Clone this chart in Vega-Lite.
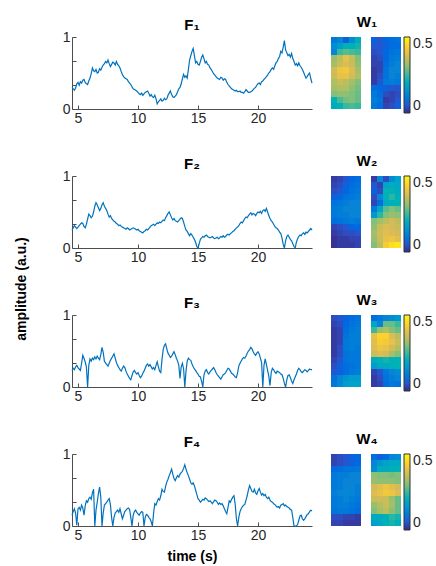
{
"$schema": "https://vega.github.io/schema/vega-lite/v6.json",
"background": "white",
"padding": {"left": 15, "top": 15, "right": 2, "bottom": 2},
"config": {
  "font": "Liberation Sans",
  "view": {"stroke": null},
  "axis": {"grid": false, "domainColor": "#4d4d4d", "tickColor": "#4d4d4d", "labelColor": "#262626", "labelFontSize": 14, "labelFont": "Liberation Sans", "titleFont": "Liberation Sans", "titleFontSize": 14, "titleFontWeight": "bold", "titleColor": "#000", "tickSize": -4, "labelPadding": 6, "titlePadding": 7},
  "title": {"font": "Liberation Sans", "fontSize": 15, "fontWeight": "bold", "color": "#000", "offset": 0},
  "legend": {"labelFont": "Liberation Sans", "labelFontSize": 14, "labelColor": "#262626"}
},
"title": {"text": "amplitude (a.u.)", "orient": "left", "anchor": "middle", "fontSize": 14, "fontWeight": "bold", "offset": 33},
"datasets": {
"f1": [{"t":4.5,"v":0.30},{"t":4.6,"v":0.28},{"t":4.7,"v":0.26},{"t":4.8,"v":0.29},{"t":4.9,"v":0.35},{"t":5.0,"v":0.37},{"t":5.1,"v":0.33},{"t":5.2,"v":0.38},{"t":5.3,"v":0.36},{"t":5.4,"v":0.40},{"t":5.5,"v":0.41},{"t":5.6,"v":0.37},{"t":5.7,"v":0.35},{"t":5.8,"v":0.34},{"t":5.9,"v":0.39},{"t":6.0,"v":0.43},{"t":6.1,"v":0.49},{"t":6.2,"v":0.57},{"t":6.3,"v":0.53},{"t":6.4,"v":0.52},{"t":6.5,"v":0.55},{"t":6.6,"v":0.50},{"t":6.7,"v":0.51},{"t":6.8,"v":0.56},{"t":6.9,"v":0.54},{"t":7.0,"v":0.58},{"t":7.1,"v":0.61},{"t":7.2,"v":0.63},{"t":7.3,"v":0.66},{"t":7.4,"v":0.64},{"t":7.5,"v":0.68},{"t":7.6,"v":0.63},{"t":7.7,"v":0.59},{"t":7.8,"v":0.62},{"t":7.9,"v":0.65},{"t":8.0,"v":0.64},{"t":8.1,"v":0.61},{"t":8.2,"v":0.66},{"t":8.3,"v":0.62},{"t":8.4,"v":0.60},{"t":8.5,"v":0.57},{"t":8.6,"v":0.52},{"t":8.7,"v":0.48},{"t":8.8,"v":0.45},{"t":8.9,"v":0.43},{"t":9.0,"v":0.42},{"t":9.1,"v":0.41},{"t":9.2,"v":0.38},{"t":9.3,"v":0.36},{"t":9.4,"v":0.34},{"t":9.5,"v":0.31},{"t":9.6,"v":0.28},{"t":9.7,"v":0.27},{"t":9.8,"v":0.26},{"t":9.9,"v":0.25},{"t":10.0,"v":0.23},{"t":10.1,"v":0.21},{"t":10.2,"v":0.20},{"t":10.3,"v":0.22},{"t":10.4,"v":0.19},{"t":10.5,"v":0.21},{"t":10.6,"v":0.23},{"t":10.7,"v":0.24},{"t":10.8,"v":0.25},{"t":10.9,"v":0.22},{"t":11.0,"v":0.18},{"t":11.1,"v":0.20},{"t":11.2,"v":0.17},{"t":11.3,"v":0.16},{"t":11.4,"v":0.19},{"t":11.5,"v":0.14},{"t":11.6,"v":0.07},{"t":11.7,"v":0.10},{"t":11.8,"v":0.12},{"t":11.9,"v":0.14},{"t":12.0,"v":0.11},{"t":12.1,"v":0.12},{"t":12.2,"v":0.15},{"t":12.3,"v":0.13},{"t":12.4,"v":0.14},{"t":12.5,"v":0.19},{"t":12.6,"v":0.22},{"t":12.7,"v":0.25},{"t":12.8,"v":0.20},{"t":12.9,"v":0.17},{"t":13.0,"v":0.16},{"t":13.1,"v":0.18},{"t":13.2,"v":0.20},{"t":13.3,"v":0.24},{"t":13.4,"v":0.28},{"t":13.5,"v":0.30},{"t":13.6,"v":0.35},{"t":13.7,"v":0.42},{"t":13.8,"v":0.48},{"t":13.9,"v":0.44},{"t":14.0,"v":0.46},{"t":14.1,"v":0.43},{"t":14.2,"v":0.55},{"t":14.3,"v":0.68},{"t":14.4,"v":0.74},{"t":14.5,"v":0.80},{"t":14.6,"v":0.84},{"t":14.7,"v":0.74},{"t":14.8,"v":0.64},{"t":14.9,"v":0.66},{"t":15.0,"v":0.62},{"t":15.1,"v":0.61},{"t":15.2,"v":0.66},{"t":15.3,"v":0.72},{"t":15.4,"v":0.75},{"t":15.5,"v":0.70},{"t":15.6,"v":0.64},{"t":15.7,"v":0.66},{"t":15.8,"v":0.62},{"t":15.9,"v":0.61},{"t":16.0,"v":0.57},{"t":16.1,"v":0.55},{"t":16.2,"v":0.52},{"t":16.3,"v":0.49},{"t":16.4,"v":0.47},{"t":16.5,"v":0.45},{"t":16.6,"v":0.43},{"t":16.7,"v":0.42},{"t":16.8,"v":0.41},{"t":16.9,"v":0.44},{"t":17.0,"v":0.43},{"t":17.1,"v":0.40},{"t":17.2,"v":0.42},{"t":17.3,"v":0.41},{"t":17.4,"v":0.37},{"t":17.5,"v":0.34},{"t":17.6,"v":0.32},{"t":17.7,"v":0.30},{"t":17.8,"v":0.28},{"t":17.9,"v":0.27},{"t":18.0,"v":0.26},{"t":18.1,"v":0.25},{"t":18.2,"v":0.26},{"t":18.3,"v":0.24},{"t":18.4,"v":0.24},{"t":18.5,"v":0.25},{"t":18.6,"v":0.23},{"t":18.7,"v":0.23},{"t":18.8,"v":0.22},{"t":18.9,"v":0.24},{"t":19.0,"v":0.27},{"t":19.1,"v":0.25},{"t":19.2,"v":0.23},{"t":19.3,"v":0.23},{"t":19.4,"v":0.24},{"t":19.5,"v":0.25},{"t":19.6,"v":0.27},{"t":19.7,"v":0.29},{"t":19.8,"v":0.30},{"t":19.9,"v":0.33},{"t":20.0,"v":0.35},{"t":20.1,"v":0.36},{"t":20.2,"v":0.34},{"t":20.3,"v":0.38},{"t":20.4,"v":0.39},{"t":20.5,"v":0.41},{"t":20.6,"v":0.43},{"t":20.7,"v":0.45},{"t":20.8,"v":0.47},{"t":20.9,"v":0.50},{"t":21.0,"v":0.52},{"t":21.1,"v":0.55},{"t":21.2,"v":0.57},{"t":21.3,"v":0.55},{"t":21.4,"v":0.60},{"t":21.5,"v":0.64},{"t":21.6,"v":0.66},{"t":21.7,"v":0.70},{"t":21.8,"v":0.73},{"t":21.9,"v":0.80},{"t":22.0,"v":0.78},{"t":22.1,"v":0.86},{"t":22.2,"v":0.95},{"t":22.3,"v":0.82},{"t":22.4,"v":0.78},{"t":22.5,"v":0.74},{"t":22.6,"v":0.76},{"t":22.7,"v":0.72},{"t":22.8,"v":0.77},{"t":22.9,"v":0.70},{"t":23.0,"v":0.66},{"t":23.1,"v":0.61},{"t":23.2,"v":0.63},{"t":23.3,"v":0.60},{"t":23.4,"v":0.64},{"t":23.5,"v":0.60},{"t":23.6,"v":0.58},{"t":23.7,"v":0.55},{"t":23.8,"v":0.51},{"t":23.9,"v":0.47},{"t":24.0,"v":0.43},{"t":24.1,"v":0.45},{"t":24.2,"v":0.48},{"t":24.3,"v":0.50},{"t":24.4,"v":0.42},{"t":24.5,"v":0.36}],
"f2": [{"t":4.5,"v":0.25},{"t":4.6,"v":0.28},{"t":4.7,"v":0.31},{"t":4.8,"v":0.29},{"t":4.9,"v":0.27},{"t":5.0,"v":0.29},{"t":5.1,"v":0.31},{"t":5.2,"v":0.33},{"t":5.3,"v":0.35},{"t":5.4,"v":0.34},{"t":5.5,"v":0.30},{"t":5.6,"v":0.28},{"t":5.7,"v":0.33},{"t":5.8,"v":0.40},{"t":5.9,"v":0.47},{"t":6.0,"v":0.45},{"t":6.1,"v":0.42},{"t":6.2,"v":0.44},{"t":6.3,"v":0.50},{"t":6.4,"v":0.58},{"t":6.5,"v":0.63},{"t":6.6,"v":0.60},{"t":6.7,"v":0.56},{"t":6.8,"v":0.52},{"t":6.9,"v":0.55},{"t":7.0,"v":0.60},{"t":7.1,"v":0.63},{"t":7.2,"v":0.58},{"t":7.3,"v":0.55},{"t":7.4,"v":0.52},{"t":7.5,"v":0.47},{"t":7.6,"v":0.43},{"t":7.7,"v":0.45},{"t":7.8,"v":0.41},{"t":7.9,"v":0.39},{"t":8.0,"v":0.37},{"t":8.1,"v":0.36},{"t":8.2,"v":0.34},{"t":8.3,"v":0.33},{"t":8.4,"v":0.31},{"t":8.5,"v":0.32},{"t":8.6,"v":0.30},{"t":8.7,"v":0.29},{"t":8.8,"v":0.28},{"t":8.9,"v":0.27},{"t":9.0,"v":0.26},{"t":9.1,"v":0.28},{"t":9.2,"v":0.27},{"t":9.3,"v":0.25},{"t":9.4,"v":0.26},{"t":9.5,"v":0.27},{"t":9.6,"v":0.28},{"t":9.7,"v":0.27},{"t":9.8,"v":0.26},{"t":9.9,"v":0.25},{"t":10.0,"v":0.26},{"t":10.1,"v":0.24},{"t":10.2,"v":0.23},{"t":10.3,"v":0.22},{"t":10.4,"v":0.21},{"t":10.5,"v":0.23},{"t":10.6,"v":0.24},{"t":10.7,"v":0.26},{"t":10.8,"v":0.25},{"t":10.9,"v":0.27},{"t":11.0,"v":0.29},{"t":11.1,"v":0.31},{"t":11.2,"v":0.32},{"t":11.3,"v":0.33},{"t":11.4,"v":0.31},{"t":11.5,"v":0.33},{"t":11.6,"v":0.35},{"t":11.7,"v":0.34},{"t":11.8,"v":0.36},{"t":11.9,"v":0.35},{"t":12.0,"v":0.37},{"t":12.1,"v":0.39},{"t":12.2,"v":0.38},{"t":12.3,"v":0.42},{"t":12.4,"v":0.45},{"t":12.5,"v":0.48},{"t":12.6,"v":0.50},{"t":12.7,"v":0.46},{"t":12.8,"v":0.42},{"t":12.9,"v":0.39},{"t":13.0,"v":0.41},{"t":13.1,"v":0.38},{"t":13.2,"v":0.37},{"t":13.3,"v":0.36},{"t":13.4,"v":0.38},{"t":13.5,"v":0.40},{"t":13.6,"v":0.42},{"t":13.7,"v":0.41},{"t":13.8,"v":0.36},{"t":13.9,"v":0.30},{"t":14.0,"v":0.25},{"t":14.1,"v":0.23},{"t":14.2,"v":0.20},{"t":14.3,"v":0.17},{"t":14.4,"v":0.20},{"t":14.5,"v":0.18},{"t":14.6,"v":0.15},{"t":14.7,"v":0.12},{"t":14.8,"v":0.08},{"t":14.9,"v":0.02},{"t":15.0,"v":0.00},{"t":15.1,"v":0.06},{"t":15.2,"v":0.12},{"t":15.3,"v":0.14},{"t":15.4,"v":0.16},{"t":15.5,"v":0.15},{"t":15.6,"v":0.17},{"t":15.7,"v":0.18},{"t":15.8,"v":0.16},{"t":15.9,"v":0.15},{"t":16.0,"v":0.14},{"t":16.1,"v":0.15},{"t":16.2,"v":0.16},{"t":16.3,"v":0.14},{"t":16.4,"v":0.13},{"t":16.5,"v":0.14},{"t":16.6,"v":0.15},{"t":16.7,"v":0.13},{"t":16.8,"v":0.14},{"t":16.9,"v":0.16},{"t":17.0,"v":0.15},{"t":17.1,"v":0.17},{"t":17.2,"v":0.15},{"t":17.3,"v":0.16},{"t":17.4,"v":0.18},{"t":17.5,"v":0.19},{"t":17.6,"v":0.18},{"t":17.7,"v":0.20},{"t":17.8,"v":0.21},{"t":17.9,"v":0.23},{"t":18.0,"v":0.24},{"t":18.1,"v":0.26},{"t":18.2,"v":0.28},{"t":18.3,"v":0.29},{"t":18.4,"v":0.31},{"t":18.5,"v":0.34},{"t":18.6,"v":0.36},{"t":18.7,"v":0.35},{"t":18.8,"v":0.38},{"t":18.9,"v":0.41},{"t":19.0,"v":0.43},{"t":19.1,"v":0.42},{"t":19.2,"v":0.45},{"t":19.3,"v":0.47},{"t":19.4,"v":0.49},{"t":19.5,"v":0.46},{"t":19.6,"v":0.48},{"t":19.7,"v":0.47},{"t":19.8,"v":0.45},{"t":19.9,"v":0.48},{"t":20.0,"v":0.50},{"t":20.1,"v":0.49},{"t":20.2,"v":0.51},{"t":20.3,"v":0.48},{"t":20.4,"v":0.52},{"t":20.5,"v":0.53},{"t":20.6,"v":0.51},{"t":20.7,"v":0.55},{"t":20.8,"v":0.50},{"t":20.9,"v":0.45},{"t":21.0,"v":0.41},{"t":21.1,"v":0.38},{"t":21.2,"v":0.36},{"t":21.3,"v":0.33},{"t":21.4,"v":0.30},{"t":21.5,"v":0.28},{"t":21.6,"v":0.27},{"t":21.7,"v":0.25},{"t":21.8,"v":0.22},{"t":21.9,"v":0.20},{"t":22.0,"v":0.14},{"t":22.1,"v":0.05},{"t":22.2,"v":0.00},{"t":22.3,"v":0.10},{"t":22.4,"v":0.16},{"t":22.5,"v":0.18},{"t":22.6,"v":0.15},{"t":22.7,"v":0.12},{"t":22.8,"v":0.10},{"t":22.9,"v":0.06},{"t":23.0,"v":0.02},{"t":23.1,"v":0.00},{"t":23.2,"v":0.08},{"t":23.3,"v":0.13},{"t":23.4,"v":0.16},{"t":23.5,"v":0.18},{"t":23.6,"v":0.17},{"t":23.7,"v":0.20},{"t":23.8,"v":0.21},{"t":23.9,"v":0.19},{"t":24.0,"v":0.22},{"t":24.1,"v":0.21},{"t":24.2,"v":0.23},{"t":24.3,"v":0.25},{"t":24.4,"v":0.27},{"t":24.5,"v":0.25}],
"f3": [{"t":4.5,"v":0.23},{"t":4.6,"v":0.26},{"t":4.7,"v":0.24},{"t":4.8,"v":0.28},{"t":4.9,"v":0.30},{"t":5.0,"v":0.27},{"t":5.1,"v":0.25},{"t":5.2,"v":0.23},{"t":5.3,"v":0.33},{"t":5.4,"v":0.44},{"t":5.5,"v":0.40},{"t":5.6,"v":0.35},{"t":5.7,"v":0.28},{"t":5.8,"v":0.00},{"t":5.9,"v":0.30},{"t":6.0,"v":0.39},{"t":6.1,"v":0.36},{"t":6.2,"v":0.40},{"t":6.3,"v":0.38},{"t":6.4,"v":0.42},{"t":6.5,"v":0.39},{"t":6.6,"v":0.43},{"t":6.7,"v":0.40},{"t":6.8,"v":0.38},{"t":6.9,"v":0.45},{"t":7.0,"v":0.55},{"t":7.1,"v":0.48},{"t":7.2,"v":0.36},{"t":7.3,"v":0.33},{"t":7.4,"v":0.31},{"t":7.5,"v":0.29},{"t":7.6,"v":0.33},{"t":7.7,"v":0.37},{"t":7.8,"v":0.40},{"t":7.9,"v":0.43},{"t":8.0,"v":0.46},{"t":8.1,"v":0.40},{"t":8.2,"v":0.34},{"t":8.3,"v":0.30},{"t":8.4,"v":0.27},{"t":8.5,"v":0.24},{"t":8.6,"v":0.22},{"t":8.7,"v":0.26},{"t":8.8,"v":0.29},{"t":8.9,"v":0.27},{"t":9.0,"v":0.22},{"t":9.1,"v":0.18},{"t":9.2,"v":0.15},{"t":9.3,"v":0.12},{"t":9.4,"v":0.10},{"t":9.5,"v":0.16},{"t":9.6,"v":0.21},{"t":9.7,"v":0.23},{"t":9.8,"v":0.20},{"t":9.9,"v":0.18},{"t":10.0,"v":0.20},{"t":10.1,"v":0.16},{"t":10.2,"v":0.13},{"t":10.3,"v":0.15},{"t":10.4,"v":0.19},{"t":10.5,"v":0.22},{"t":10.6,"v":0.26},{"t":10.7,"v":0.30},{"t":10.8,"v":0.32},{"t":10.9,"v":0.29},{"t":11.0,"v":0.31},{"t":11.1,"v":0.28},{"t":11.2,"v":0.25},{"t":11.3,"v":0.27},{"t":11.4,"v":0.24},{"t":11.5,"v":0.30},{"t":11.6,"v":0.35},{"t":11.7,"v":0.28},{"t":11.8,"v":0.22},{"t":11.9,"v":0.20},{"t":12.0,"v":0.38},{"t":12.1,"v":0.52},{"t":12.2,"v":0.58},{"t":12.3,"v":0.60},{"t":12.4,"v":0.53},{"t":12.5,"v":0.47},{"t":12.6,"v":0.44},{"t":12.7,"v":0.41},{"t":12.8,"v":0.43},{"t":12.9,"v":0.46},{"t":13.0,"v":0.49},{"t":13.1,"v":0.45},{"t":13.2,"v":0.40},{"t":13.3,"v":0.36},{"t":13.4,"v":0.30},{"t":13.5,"v":0.12},{"t":13.6,"v":0.28},{"t":13.7,"v":0.33},{"t":13.8,"v":0.25},{"t":13.9,"v":0.00},{"t":14.0,"v":0.22},{"t":14.1,"v":0.36},{"t":14.2,"v":0.40},{"t":14.3,"v":0.38},{"t":14.4,"v":0.37},{"t":14.5,"v":0.32},{"t":14.6,"v":0.28},{"t":14.7,"v":0.25},{"t":14.8,"v":0.23},{"t":14.9,"v":0.20},{"t":15.0,"v":0.18},{"t":15.1,"v":0.15},{"t":15.2,"v":0.14},{"t":15.3,"v":0.08},{"t":15.4,"v":0.00},{"t":15.5,"v":0.17},{"t":15.6,"v":0.22},{"t":15.7,"v":0.24},{"t":15.8,"v":0.20},{"t":15.9,"v":0.18},{"t":16.0,"v":0.21},{"t":16.1,"v":0.23},{"t":16.2,"v":0.25},{"t":16.3,"v":0.27},{"t":16.4,"v":0.24},{"t":16.5,"v":0.20},{"t":16.6,"v":0.17},{"t":16.7,"v":0.15},{"t":16.8,"v":0.13},{"t":16.9,"v":0.11},{"t":17.0,"v":0.14},{"t":17.1,"v":0.17},{"t":17.2,"v":0.18},{"t":17.3,"v":0.20},{"t":17.4,"v":0.23},{"t":17.5,"v":0.26},{"t":17.6,"v":0.25},{"t":17.7,"v":0.22},{"t":17.8,"v":0.19},{"t":17.9,"v":0.18},{"t":18.0,"v":0.16},{"t":18.1,"v":0.14},{"t":18.2,"v":0.13},{"t":18.3,"v":0.20},{"t":18.4,"v":0.29},{"t":18.5,"v":0.33},{"t":18.6,"v":0.36},{"t":18.7,"v":0.39},{"t":18.8,"v":0.41},{"t":18.9,"v":0.40},{"t":19.0,"v":0.43},{"t":19.1,"v":0.47},{"t":19.2,"v":0.50},{"t":19.3,"v":0.52},{"t":19.4,"v":0.55},{"t":19.5,"v":0.53},{"t":19.6,"v":0.49},{"t":19.7,"v":0.46},{"t":19.8,"v":0.44},{"t":19.9,"v":0.47},{"t":20.0,"v":0.49},{"t":20.1,"v":0.46},{"t":20.2,"v":0.40},{"t":20.3,"v":0.34},{"t":20.4,"v":0.00},{"t":20.5,"v":0.30},{"t":20.6,"v":0.39},{"t":20.7,"v":0.31},{"t":20.8,"v":0.23},{"t":20.9,"v":0.15},{"t":21.0,"v":0.02},{"t":21.1,"v":0.20},{"t":21.2,"v":0.26},{"t":21.3,"v":0.24},{"t":21.4,"v":0.21},{"t":21.5,"v":0.19},{"t":21.6,"v":0.22},{"t":21.7,"v":0.21},{"t":21.8,"v":0.20},{"t":21.9,"v":0.18},{"t":22.0,"v":0.17},{"t":22.1,"v":0.12},{"t":22.2,"v":0.05},{"t":22.3,"v":0.00},{"t":22.4,"v":0.10},{"t":22.5,"v":0.16},{"t":22.6,"v":0.17},{"t":22.7,"v":0.13},{"t":22.8,"v":0.08},{"t":22.9,"v":0.05},{"t":23.0,"v":0.10},{"t":23.1,"v":0.14},{"t":23.2,"v":0.18},{"t":23.3,"v":0.23},{"t":23.4,"v":0.26},{"t":23.5,"v":0.24},{"t":23.6,"v":0.21},{"t":23.7,"v":0.20},{"t":23.8,"v":0.22},{"t":23.9,"v":0.24},{"t":24.0,"v":0.23},{"t":24.1,"v":0.21},{"t":24.2,"v":0.23},{"t":24.3,"v":0.25},{"t":24.4,"v":0.24},{"t":24.5,"v":0.24}],
"f4": [{"t":4.5,"v":0.15},{"t":4.6,"v":0.20},{"t":4.7,"v":0.24},{"t":4.8,"v":0.18},{"t":4.9,"v":0.01},{"t":5.0,"v":0.24},{"t":5.1,"v":0.26},{"t":5.2,"v":0.22},{"t":5.3,"v":0.29},{"t":5.4,"v":0.25},{"t":5.5,"v":0.15},{"t":5.6,"v":0.28},{"t":5.7,"v":0.35},{"t":5.8,"v":0.33},{"t":5.9,"v":0.38},{"t":6.0,"v":0.40},{"t":6.1,"v":0.37},{"t":6.2,"v":0.46},{"t":6.3,"v":0.51},{"t":6.4,"v":0.00},{"t":6.5,"v":0.22},{"t":6.6,"v":0.33},{"t":6.7,"v":0.45},{"t":6.8,"v":0.54},{"t":6.9,"v":0.40},{"t":7.0,"v":0.00},{"t":7.1,"v":0.18},{"t":7.2,"v":0.29},{"t":7.3,"v":0.31},{"t":7.4,"v":0.33},{"t":7.5,"v":0.36},{"t":7.6,"v":0.38},{"t":7.7,"v":0.30},{"t":7.8,"v":0.12},{"t":7.9,"v":0.00},{"t":8.0,"v":0.12},{"t":8.1,"v":0.18},{"t":8.2,"v":0.20},{"t":8.3,"v":0.22},{"t":8.4,"v":0.19},{"t":8.5,"v":0.24},{"t":8.6,"v":0.17},{"t":8.7,"v":0.10},{"t":8.8,"v":0.15},{"t":8.9,"v":0.20},{"t":9.0,"v":0.22},{"t":9.1,"v":0.24},{"t":9.2,"v":0.25},{"t":9.3,"v":0.23},{"t":9.4,"v":0.12},{"t":9.5,"v":0.00},{"t":9.6,"v":0.15},{"t":9.7,"v":0.20},{"t":9.8,"v":0.22},{"t":9.9,"v":0.19},{"t":10.0,"v":0.17},{"t":10.1,"v":0.15},{"t":10.2,"v":0.18},{"t":10.3,"v":0.20},{"t":10.4,"v":0.19},{"t":10.5,"v":0.00},{"t":10.6,"v":0.12},{"t":10.7,"v":0.16},{"t":10.8,"v":0.15},{"t":10.9,"v":0.12},{"t":11.0,"v":0.10},{"t":11.1,"v":0.06},{"t":11.2,"v":0.00},{"t":11.3,"v":0.18},{"t":11.4,"v":0.31},{"t":11.5,"v":0.29},{"t":11.6,"v":0.34},{"t":11.7,"v":0.38},{"t":11.8,"v":0.36},{"t":11.9,"v":0.42},{"t":12.0,"v":0.51},{"t":12.1,"v":0.48},{"t":12.2,"v":0.47},{"t":12.3,"v":0.55},{"t":12.4,"v":0.61},{"t":12.5,"v":0.65},{"t":12.6,"v":0.70},{"t":12.7,"v":0.74},{"t":12.8,"v":0.79},{"t":12.9,"v":0.72},{"t":13.0,"v":0.66},{"t":13.1,"v":0.63},{"t":13.2,"v":0.67},{"t":13.3,"v":0.70},{"t":13.4,"v":0.68},{"t":13.5,"v":0.72},{"t":13.6,"v":0.74},{"t":13.7,"v":0.76},{"t":13.8,"v":0.80},{"t":13.9,"v":0.85},{"t":14.0,"v":0.79},{"t":14.1,"v":0.74},{"t":14.2,"v":0.70},{"t":14.3,"v":0.65},{"t":14.4,"v":0.60},{"t":14.5,"v":0.58},{"t":14.6,"v":0.60},{"t":14.7,"v":0.56},{"t":14.8,"v":0.50},{"t":14.9,"v":0.44},{"t":15.0,"v":0.38},{"t":15.1,"v":0.36},{"t":15.2,"v":0.33},{"t":15.3,"v":0.35},{"t":15.4,"v":0.37},{"t":15.5,"v":0.36},{"t":15.6,"v":0.39},{"t":15.7,"v":0.38},{"t":15.8,"v":0.36},{"t":15.9,"v":0.34},{"t":16.0,"v":0.35},{"t":16.1,"v":0.33},{"t":16.2,"v":0.31},{"t":16.3,"v":0.34},{"t":16.4,"v":0.36},{"t":16.5,"v":0.35},{"t":16.6,"v":0.33},{"t":16.7,"v":0.30},{"t":16.8,"v":0.32},{"t":16.9,"v":0.30},{"t":17.0,"v":0.31},{"t":17.1,"v":0.28},{"t":17.2,"v":0.24},{"t":17.3,"v":0.20},{"t":17.4,"v":0.17},{"t":17.5,"v":0.26},{"t":17.6,"v":0.35},{"t":17.7,"v":0.33},{"t":17.8,"v":0.37},{"t":17.9,"v":0.40},{"t":18.0,"v":0.42},{"t":18.1,"v":0.30},{"t":18.2,"v":0.10},{"t":18.3,"v":0.00},{"t":18.4,"v":0.12},{"t":18.5,"v":0.20},{"t":18.6,"v":0.24},{"t":18.7,"v":0.27},{"t":18.8,"v":0.29},{"t":18.9,"v":0.30},{"t":19.0,"v":0.36},{"t":19.1,"v":0.42},{"t":19.2,"v":0.50},{"t":19.3,"v":0.56},{"t":19.4,"v":0.52},{"t":19.5,"v":0.48},{"t":19.6,"v":0.47},{"t":19.7,"v":0.51},{"t":19.8,"v":0.46},{"t":19.9,"v":0.44},{"t":20.0,"v":0.49},{"t":20.1,"v":0.52},{"t":20.2,"v":0.47},{"t":20.3,"v":0.43},{"t":20.4,"v":0.45},{"t":20.5,"v":0.42},{"t":20.6,"v":0.44},{"t":20.7,"v":0.40},{"t":20.8,"v":0.38},{"t":20.9,"v":0.40},{"t":21.0,"v":0.36},{"t":21.1,"v":0.34},{"t":21.2,"v":0.33},{"t":21.3,"v":0.31},{"t":21.4,"v":0.30},{"t":21.5,"v":0.28},{"t":21.6,"v":0.26},{"t":21.7,"v":0.27},{"t":21.8,"v":0.25},{"t":21.9,"v":0.29},{"t":22.0,"v":0.30},{"t":22.1,"v":0.31},{"t":22.2,"v":0.28},{"t":22.3,"v":0.29},{"t":22.4,"v":0.27},{"t":22.5,"v":0.26},{"t":22.6,"v":0.25},{"t":22.7,"v":0.23},{"t":22.8,"v":0.22},{"t":22.9,"v":0.12},{"t":23.0,"v":0.00},{"t":23.1,"v":0.00},{"t":23.2,"v":0.00},{"t":23.3,"v":0.02},{"t":23.4,"v":0.08},{"t":23.5,"v":0.14},{"t":23.6,"v":0.15},{"t":23.7,"v":0.10},{"t":23.8,"v":0.08},{"t":23.9,"v":0.10},{"t":24.0,"v":0.13},{"t":24.1,"v":0.16},{"t":24.2,"v":0.17},{"t":24.3,"v":0.20},{"t":24.4,"v":0.22},{"t":24.5,"v":0.21}],
"w1a": [{"r":1,"c":1,"v":0.10},{"r":1,"c":2,"v":0.12},{"r":1,"c":3,"v":0.06},{"r":1,"c":4,"v":0.14},{"r":1,"c":5,"v":0.20},{"r":2,"c":1,"v":0.14},{"r":2,"c":2,"v":0.17},{"r":2,"c":3,"v":0.22},{"r":2,"c":4,"v":0.21},{"r":2,"c":5,"v":0.23},{"r":3,"c":1,"v":0.12},{"r":3,"c":2,"v":0.25},{"r":3,"c":3,"v":0.27},{"r":3,"c":4,"v":0.26},{"r":3,"c":5,"v":0.25},{"r":4,"c":1,"v":0.32},{"r":4,"c":2,"v":0.35},{"r":4,"c":3,"v":0.40},{"r":4,"c":4,"v":0.36},{"r":4,"c":5,"v":0.30},{"r":5,"c":1,"v":0.33},{"r":5,"c":2,"v":0.36},{"r":5,"c":3,"v":0.38},{"r":5,"c":4,"v":0.36},{"r":5,"c":5,"v":0.31},{"r":6,"c":1,"v":0.37},{"r":6,"c":2,"v":0.41},{"r":6,"c":3,"v":0.42},{"r":6,"c":4,"v":0.38},{"r":6,"c":5,"v":0.33},{"r":7,"c":1,"v":0.36},{"r":7,"c":2,"v":0.40},{"r":7,"c":3,"v":0.40},{"r":7,"c":4,"v":0.37},{"r":7,"c":5,"v":0.34},{"r":8,"c":1,"v":0.34},{"r":8,"c":2,"v":0.36},{"r":8,"c":3,"v":0.35},{"r":8,"c":4,"v":0.33},{"r":8,"c":5,"v":0.30},{"r":9,"c":1,"v":0.33},{"r":9,"c":2,"v":0.34},{"r":9,"c":3,"v":0.34},{"r":9,"c":4,"v":0.31},{"r":9,"c":5,"v":0.29},{"r":10,"c":1,"v":0.30},{"r":10,"c":2,"v":0.31},{"r":10,"c":3,"v":0.31},{"r":10,"c":4,"v":0.30},{"r":10,"c":5,"v":0.28},{"r":11,"c":1,"v":0.22},{"r":11,"c":2,"v":0.26},{"r":11,"c":3,"v":0.29},{"r":11,"c":4,"v":0.30},{"r":11,"c":5,"v":0.28},{"r":12,"c":1,"v":0.20},{"r":12,"c":2,"v":0.22},{"r":12,"c":3,"v":0.25},{"r":12,"c":4,"v":0.26},{"r":12,"c":5,"v":0.25}],
"w1b": [{"r":1,"c":1,"v":0.06},{"r":1,"c":2,"v":0.05},{"r":1,"c":3,"v":0.07},{"r":1,"c":4,"v":0.08},{"r":1,"c":5,"v":0.09},{"r":2,"c":1,"v":0.05},{"r":2,"c":2,"v":0.05},{"r":2,"c":3,"v":0.06},{"r":2,"c":4,"v":0.08},{"r":2,"c":5,"v":0.08},{"r":3,"c":1,"v":0.04},{"r":3,"c":2,"v":0.05},{"r":3,"c":3,"v":0.07},{"r":3,"c":4,"v":0.09},{"r":3,"c":5,"v":0.10},{"r":4,"c":1,"v":0.03},{"r":4,"c":2,"v":0.04},{"r":4,"c":3,"v":0.07},{"r":4,"c":4,"v":0.10},{"r":4,"c":5,"v":0.11},{"r":5,"c":1,"v":0.03},{"r":5,"c":2,"v":0.03},{"r":5,"c":3,"v":0.08},{"r":5,"c":4,"v":0.11},{"r":5,"c":5,"v":0.12},{"r":6,"c":1,"v":0.02},{"r":6,"c":2,"v":0.03},{"r":6,"c":3,"v":0.09},{"r":6,"c":4,"v":0.12},{"r":6,"c":5,"v":0.12},{"r":7,"c":1,"v":0.02},{"r":7,"c":2,"v":0.04},{"r":7,"c":3,"v":0.09},{"r":7,"c":4,"v":0.12},{"r":7,"c":5,"v":0.11},{"r":8,"c":1,"v":0.02},{"r":8,"c":2,"v":0.05},{"r":8,"c":3,"v":0.10},{"r":8,"c":4,"v":0.11},{"r":8,"c":5,"v":0.10},{"r":9,"c":1,"v":0.08},{"r":9,"c":2,"v":0.07},{"r":9,"c":3,"v":0.06},{"r":9,"c":4,"v":0.05},{"r":9,"c":5,"v":0.05},{"r":10,"c":1,"v":0.10},{"r":10,"c":2,"v":0.08},{"r":10,"c":3,"v":0.04},{"r":10,"c":4,"v":0.03},{"r":10,"c":5,"v":0.04},{"r":11,"c":1,"v":0.11},{"r":11,"c":2,"v":0.09},{"r":11,"c":3,"v":0.02},{"r":11,"c":4,"v":0.03},{"r":11,"c":5,"v":0.05},{"r":12,"c":1,"v":0.10},{"r":12,"c":2,"v":0.08},{"r":12,"c":3,"v":0.03},{"r":12,"c":4,"v":0.04},{"r":12,"c":5,"v":0.06}],
"w2a": [{"r":1,"c":1,"v":0.02},{"r":1,"c":2,"v":0.03},{"r":1,"c":3,"v":0.05},{"r":1,"c":4,"v":0.07},{"r":1,"c":5,"v":0.08},{"r":2,"c":1,"v":0.03},{"r":2,"c":2,"v":0.04},{"r":2,"c":3,"v":0.06},{"r":2,"c":4,"v":0.08},{"r":2,"c":5,"v":0.09},{"r":3,"c":1,"v":0.04},{"r":3,"c":2,"v":0.05},{"r":3,"c":3,"v":0.07},{"r":3,"c":4,"v":0.09},{"r":3,"c":5,"v":0.10},{"r":4,"c":1,"v":0.06},{"r":4,"c":2,"v":0.07},{"r":4,"c":3,"v":0.09},{"r":4,"c":4,"v":0.10},{"r":4,"c":5,"v":0.11},{"r":5,"c":1,"v":0.09},{"r":5,"c":2,"v":0.10},{"r":5,"c":3,"v":0.11},{"r":5,"c":4,"v":0.12},{"r":5,"c":5,"v":0.12},{"r":6,"c":1,"v":0.10},{"r":6,"c":2,"v":0.11},{"r":6,"c":3,"v":0.12},{"r":6,"c":4,"v":0.12},{"r":6,"c":5,"v":0.13},{"r":7,"c":1,"v":0.10},{"r":7,"c":2,"v":0.11},{"r":7,"c":3,"v":0.11},{"r":7,"c":4,"v":0.12},{"r":7,"c":5,"v":0.12},{"r":8,"c":1,"v":0.08},{"r":8,"c":2,"v":0.09},{"r":8,"c":3,"v":0.10},{"r":8,"c":4,"v":0.11},{"r":8,"c":5,"v":0.10},{"r":9,"c":1,"v":0.03},{"r":9,"c":2,"v":0.04},{"r":9,"c":3,"v":0.05},{"r":9,"c":4,"v":0.07},{"r":9,"c":5,"v":0.07},{"r":10,"c":1,"v":0.02},{"r":10,"c":2,"v":0.03},{"r":10,"c":3,"v":0.04},{"r":10,"c":4,"v":0.04},{"r":10,"c":5,"v":0.05},{"r":11,"c":1,"v":0.01},{"r":11,"c":2,"v":0.02},{"r":11,"c":3,"v":0.02},{"r":11,"c":4,"v":0.03},{"r":11,"c":5,"v":0.03},{"r":12,"c":1,"v":0.01},{"r":12,"c":2,"v":0.02},{"r":12,"c":3,"v":0.02},{"r":12,"c":4,"v":0.02},{"r":12,"c":5,"v":0.03}],
"w2b": [{"r":1,"c":1,"v":0.02},{"r":1,"c":2,"v":0.13},{"r":1,"c":3,"v":0.04},{"r":1,"c":4,"v":0.14},{"r":1,"c":5,"v":0.18},{"r":2,"c":1,"v":0.05},{"r":2,"c":2,"v":0.03},{"r":2,"c":3,"v":0.18},{"r":2,"c":4,"v":0.20},{"r":2,"c":5,"v":0.19},{"r":3,"c":1,"v":0.06},{"r":3,"c":2,"v":0.04},{"r":3,"c":3,"v":0.22},{"r":3,"c":4,"v":0.22},{"r":3,"c":5,"v":0.20},{"r":4,"c":1,"v":0.04},{"r":4,"c":2,"v":0.12},{"r":4,"c":3,"v":0.22},{"r":4,"c":4,"v":0.24},{"r":4,"c":5,"v":0.21},{"r":5,"c":1,"v":0.03},{"r":5,"c":2,"v":0.08},{"r":5,"c":3,"v":0.20},{"r":5,"c":4,"v":0.21},{"r":5,"c":5,"v":0.22},{"r":6,"c":1,"v":0.10},{"r":6,"c":2,"v":0.19},{"r":6,"c":3,"v":0.27},{"r":6,"c":4,"v":0.30},{"r":6,"c":5,"v":0.28},{"r":7,"c":1,"v":0.16},{"r":7,"c":2,"v":0.24},{"r":7,"c":3,"v":0.30},{"r":7,"c":4,"v":0.32},{"r":7,"c":5,"v":0.31},{"r":8,"c":1,"v":0.30},{"r":8,"c":2,"v":0.33},{"r":8,"c":3,"v":0.35},{"r":8,"c":4,"v":0.37},{"r":8,"c":5,"v":0.35},{"r":9,"c":1,"v":0.31},{"r":9,"c":2,"v":0.36},{"r":9,"c":3,"v":0.38},{"r":9,"c":4,"v":0.37},{"r":9,"c":5,"v":0.36},{"r":10,"c":1,"v":0.33},{"r":10,"c":2,"v":0.37},{"r":10,"c":3,"v":0.39},{"r":10,"c":4,"v":0.38},{"r":10,"c":5,"v":0.37},{"r":11,"c":1,"v":0.32},{"r":11,"c":2,"v":0.36},{"r":11,"c":3,"v":0.40},{"r":11,"c":4,"v":0.41},{"r":11,"c":5,"v":0.39},{"r":12,"c":1,"v":0.30},{"r":12,"c":2,"v":0.35},{"r":12,"c":3,"v":0.43},{"r":12,"c":4,"v":0.46},{"r":12,"c":5,"v":0.47}],
"w3a": [{"r":1,"c":1,"v":0.04},{"r":1,"c":2,"v":0.05},{"r":1,"c":3,"v":0.06},{"r":1,"c":4,"v":0.08},{"r":1,"c":5,"v":0.09},{"r":2,"c":1,"v":0.03},{"r":2,"c":2,"v":0.04},{"r":2,"c":3,"v":0.07},{"r":2,"c":4,"v":0.09},{"r":2,"c":5,"v":0.10},{"r":3,"c":1,"v":0.02},{"r":3,"c":2,"v":0.03},{"r":3,"c":3,"v":0.08},{"r":3,"c":4,"v":0.10},{"r":3,"c":5,"v":0.11},{"r":4,"c":1,"v":0.02},{"r":4,"c":2,"v":0.03},{"r":4,"c":3,"v":0.09},{"r":4,"c":4,"v":0.11},{"r":4,"c":5,"v":0.11},{"r":5,"c":1,"v":0.02},{"r":5,"c":2,"v":0.03},{"r":5,"c":3,"v":0.10},{"r":5,"c":4,"v":0.11},{"r":5,"c":5,"v":0.11},{"r":6,"c":1,"v":0.02},{"r":6,"c":2,"v":0.04},{"r":6,"c":3,"v":0.10},{"r":6,"c":4,"v":0.11},{"r":6,"c":5,"v":0.10},{"r":7,"c":1,"v":0.02},{"r":7,"c":2,"v":0.04},{"r":7,"c":3,"v":0.09},{"r":7,"c":4,"v":0.10},{"r":7,"c":5,"v":0.10},{"r":8,"c":1,"v":0.03},{"r":8,"c":2,"v":0.05},{"r":8,"c":3,"v":0.09},{"r":8,"c":4,"v":0.10},{"r":8,"c":5,"v":0.10},{"r":9,"c":1,"v":0.04},{"r":9,"c":2,"v":0.06},{"r":9,"c":3,"v":0.08},{"r":9,"c":4,"v":0.09},{"r":9,"c":5,"v":0.10},{"r":10,"c":1,"v":0.05},{"r":10,"c":2,"v":0.06},{"r":10,"c":3,"v":0.08},{"r":10,"c":4,"v":0.10},{"r":10,"c":5,"v":0.11},{"r":11,"c":1,"v":0.09},{"r":11,"c":2,"v":0.12},{"r":11,"c":3,"v":0.15},{"r":11,"c":4,"v":0.17},{"r":11,"c":5,"v":0.17},{"r":12,"c":1,"v":0.10},{"r":12,"c":2,"v":0.13},{"r":12,"c":3,"v":0.17},{"r":12,"c":4,"v":0.18},{"r":12,"c":5,"v":0.18}],
"w3b": [{"r":1,"c":1,"v":0.08},{"r":1,"c":2,"v":0.10},{"r":1,"c":3,"v":0.12},{"r":1,"c":4,"v":0.14},{"r":1,"c":5,"v":0.16},{"r":2,"c":1,"v":0.18},{"r":2,"c":2,"v":0.12},{"r":2,"c":3,"v":0.28},{"r":2,"c":4,"v":0.28},{"r":2,"c":5,"v":0.25},{"r":3,"c":1,"v":0.25},{"r":3,"c":2,"v":0.32},{"r":3,"c":3,"v":0.34},{"r":3,"c":4,"v":0.30},{"r":3,"c":5,"v":0.28},{"r":4,"c":1,"v":0.40},{"r":4,"c":2,"v":0.44},{"r":4,"c":3,"v":0.44},{"r":4,"c":4,"v":0.38},{"r":4,"c":5,"v":0.35},{"r":5,"c":1,"v":0.39},{"r":5,"c":2,"v":0.43},{"r":5,"c":3,"v":0.42},{"r":5,"c":4,"v":0.40},{"r":5,"c":5,"v":0.36},{"r":6,"c":1,"v":0.38},{"r":6,"c":2,"v":0.41},{"r":6,"c":3,"v":0.40},{"r":6,"c":4,"v":0.37},{"r":6,"c":5,"v":0.34},{"r":7,"c":1,"v":0.36},{"r":7,"c":2,"v":0.38},{"r":7,"c":3,"v":0.37},{"r":7,"c":4,"v":0.33},{"r":7,"c":5,"v":0.30},{"r":8,"c":1,"v":0.20},{"r":8,"c":2,"v":0.22},{"r":8,"c":3,"v":0.23},{"r":8,"c":4,"v":0.22},{"r":8,"c":5,"v":0.22},{"r":9,"c":1,"v":0.17},{"r":9,"c":2,"v":0.19},{"r":9,"c":3,"v":0.20},{"r":9,"c":4,"v":0.21},{"r":9,"c":5,"v":0.22},{"r":10,"c":1,"v":0.03},{"r":10,"c":2,"v":0.05},{"r":10,"c":3,"v":0.10},{"r":10,"c":4,"v":0.12},{"r":10,"c":5,"v":0.14},{"r":11,"c":1,"v":0.02},{"r":11,"c":2,"v":0.04},{"r":11,"c":3,"v":0.09},{"r":11,"c":4,"v":0.11},{"r":11,"c":5,"v":0.12},{"r":12,"c":1,"v":0.02},{"r":12,"c":2,"v":0.03},{"r":12,"c":3,"v":0.08},{"r":12,"c":4,"v":0.10},{"r":12,"c":5,"v":0.09}],
"w4a": [{"r":1,"c":1,"v":0.03},{"r":1,"c":2,"v":0.04},{"r":1,"c":3,"v":0.05},{"r":1,"c":4,"v":0.06},{"r":1,"c":5,"v":0.07},{"r":2,"c":1,"v":0.03},{"r":2,"c":2,"v":0.04},{"r":2,"c":3,"v":0.05},{"r":2,"c":4,"v":0.06},{"r":2,"c":5,"v":0.07},{"r":3,"c":1,"v":0.07},{"r":3,"c":2,"v":0.08},{"r":3,"c":3,"v":0.09},{"r":3,"c":4,"v":0.09},{"r":3,"c":5,"v":0.10},{"r":4,"c":1,"v":0.10},{"r":4,"c":2,"v":0.11},{"r":4,"c":3,"v":0.11},{"r":4,"c":4,"v":0.12},{"r":4,"c":5,"v":0.12},{"r":5,"c":1,"v":0.10},{"r":5,"c":2,"v":0.11},{"r":5,"c":3,"v":0.12},{"r":5,"c":4,"v":0.12},{"r":5,"c":5,"v":0.12},{"r":6,"c":1,"v":0.10},{"r":6,"c":2,"v":0.11},{"r":6,"c":3,"v":0.12},{"r":6,"c":4,"v":0.12},{"r":6,"c":5,"v":0.11},{"r":7,"c":1,"v":0.11},{"r":7,"c":2,"v":0.12},{"r":7,"c":3,"v":0.13},{"r":7,"c":4,"v":0.12},{"r":7,"c":5,"v":0.11},{"r":8,"c":1,"v":0.10},{"r":8,"c":2,"v":0.11},{"r":8,"c":3,"v":0.12},{"r":8,"c":4,"v":0.11},{"r":8,"c":5,"v":0.10},{"r":9,"c":1,"v":0.10},{"r":9,"c":2,"v":0.11},{"r":9,"c":3,"v":0.11},{"r":9,"c":4,"v":0.10},{"r":9,"c":5,"v":0.09},{"r":10,"c":1,"v":0.09},{"r":10,"c":2,"v":0.10},{"r":10,"c":3,"v":0.10},{"r":10,"c":4,"v":0.09},{"r":10,"c":5,"v":0.08},{"r":11,"c":1,"v":0.04},{"r":11,"c":2,"v":0.04},{"r":11,"c":3,"v":0.03},{"r":11,"c":4,"v":0.03},{"r":11,"c":5,"v":0.02},{"r":12,"c":1,"v":0.03},{"r":12,"c":2,"v":0.03},{"r":12,"c":3,"v":0.02},{"r":12,"c":4,"v":0.02},{"r":12,"c":5,"v":0.02}],
"w4b": [{"r":1,"c":1,"v":0.08},{"r":1,"c":2,"v":0.06},{"r":1,"c":3,"v":0.08},{"r":1,"c":4,"v":0.12},{"r":1,"c":5,"v":0.14},{"r":2,"c":1,"v":0.12},{"r":2,"c":2,"v":0.16},{"r":2,"c":3,"v":0.18},{"r":2,"c":4,"v":0.19},{"r":2,"c":5,"v":0.19},{"r":3,"c":1,"v":0.14},{"r":3,"c":2,"v":0.20},{"r":3,"c":3,"v":0.20},{"r":3,"c":4,"v":0.21},{"r":3,"c":5,"v":0.22},{"r":4,"c":1,"v":0.31},{"r":4,"c":2,"v":0.30},{"r":4,"c":3,"v":0.30},{"r":4,"c":4,"v":0.29},{"r":4,"c":5,"v":0.30},{"r":5,"c":1,"v":0.32},{"r":5,"c":2,"v":0.31},{"r":5,"c":3,"v":0.31},{"r":5,"c":4,"v":0.31},{"r":5,"c":5,"v":0.30},{"r":6,"c":1,"v":0.37},{"r":6,"c":2,"v":0.39},{"r":6,"c":3,"v":0.41},{"r":6,"c":4,"v":0.39},{"r":6,"c":5,"v":0.37},{"r":7,"c":1,"v":0.38},{"r":7,"c":2,"v":0.40},{"r":7,"c":3,"v":0.42},{"r":7,"c":4,"v":0.41},{"r":7,"c":5,"v":0.38},{"r":8,"c":1,"v":0.36},{"r":8,"c":2,"v":0.37},{"r":8,"c":3,"v":0.36},{"r":8,"c":4,"v":0.32},{"r":8,"c":5,"v":0.28},{"r":9,"c":1,"v":0.32},{"r":9,"c":2,"v":0.34},{"r":9,"c":3,"v":0.36},{"r":9,"c":4,"v":0.33},{"r":9,"c":5,"v":0.28},{"r":10,"c":1,"v":0.30},{"r":10,"c":2,"v":0.33},{"r":10,"c":3,"v":0.35},{"r":10,"c":4,"v":0.31},{"r":10,"c":5,"v":0.28},{"r":11,"c":1,"v":0.19},{"r":11,"c":2,"v":0.20},{"r":11,"c":3,"v":0.22},{"r":11,"c":4,"v":0.24},{"r":11,"c":5,"v":0.23},{"r":12,"c":1,"v":0.17},{"r":12,"c":2,"v":0.19},{"r":12,"c":3,"v":0.21},{"r":12,"c":4,"v":0.23},{"r":12,"c":5,"v":0.21}]
},
"spacing": 29,
"resolve": {"scale": {"color": "independent"}, "legend": {"color": "independent"}},
"vconcat": [
{"spacing": 16, "resolve": {"scale": {"color": "independent"}, "legend": {"color": "independent"}}, "hconcat": [
 {"data": {"name": "f1"}, "title": {"text": "F₁", "dy": 7}, "width": 240, "height": 72, "mark": {"type": "line", "color": "#0072BD", "strokeWidth": 1.2},
  "encoding": {"x": {"field": "t", "type": "quantitative", "scale": {"domain": [4.5, 24.5], "nice": false, "zero": false}, "axis": {"values": [5, 10, 15, 20], "title": null}},
   "y": {"field": "v", "type": "quantitative", "scale": {"domain": [0, 1], "nice": false}, "axis": {"values": [0, 0.3333, 0.6667, 1], "labelExpr": "datum.value == 0 ? '0' : datum.value == 1 ? '1' : ''", "title": null}}}},
 {"title": {"text": "W₁", "anchor": "middle", "dx": -15, "dy": -3}, "spacing": 10, "resolve": {"scale": {"color": "shared"}, "legend": {"color": "independent"}}, "hconcat": [
  {"data": {"name": "w1a"}, "width": 30, "height": 72, "mark": "rect", "encoding": {"x": {"field": "c", "type": "ordinal", "axis": null, "scale": {"paddingInner": 0, "paddingOuter": 0}}, "y": {"field": "r", "type": "ordinal", "axis": null, "scale": {"paddingInner": 0, "paddingOuter": 0}}, "color": {"field": "v", "type": "quantitative", "scale": {"domain": [0, 0.0625, 0.125, 0.1875, 0.25, 0.3125, 0.375, 0.4375, 0.5], "range": ["#352a87", "#0363e1", "#1485d4", "#06a7c6", "#38b99e", "#92bf73", "#d9ba56", "#fcce2e", "#f9fb0e"]}, "legend": null}}},
  {"data": {"name": "w1b"}, "width": 30, "height": 72, "mark": "rect", "encoding": {"x": {"field": "c", "type": "ordinal", "axis": null, "scale": {"paddingInner": 0, "paddingOuter": 0}}, "y": {"field": "r", "type": "ordinal", "axis": null, "scale": {"paddingInner": 0, "paddingOuter": 0}}, "color": {"field": "v", "type": "quantitative", "scale": {"domain": [0, 0.0625, 0.125, 0.1875, 0.25, 0.3125, 0.375, 0.4375, 0.5], "range": ["#352a87", "#0363e1", "#1485d4", "#06a7c6", "#38b99e", "#92bf73", "#d9ba56", "#fcce2e", "#f9fb0e"]}, "legend": {"title": null, "values": [0, 0.5], "labelExpr": "datum.value == 0 ? '0' : '0.5'", "gradientLength": 76, "gradientThickness": 6, "gradientStrokeColor": "#333", "gradientStrokeWidth": 1, "offset": 3, "labelOffset": 3, "padding": 0}}}}
 ]}
]},
{"spacing": 16, "resolve": {"scale": {"color": "independent"}, "legend": {"color": "independent"}}, "hconcat": [
 {"data": {"name": "f2"}, "title": {"text": "F₂", "dy": 7}, "width": 240, "height": 72, "mark": {"type": "line", "color": "#0072BD", "strokeWidth": 1.2},
  "encoding": {"x": {"field": "t", "type": "quantitative", "scale": {"domain": [4.5, 24.5], "nice": false, "zero": false}, "axis": {"values": [5, 10, 15, 20], "title": null}},
   "y": {"field": "v", "type": "quantitative", "scale": {"domain": [0, 1], "nice": false}, "axis": {"values": [0, 0.3333, 0.6667, 1], "labelExpr": "datum.value == 0 ? '0' : datum.value == 1 ? '1' : ''", "title": null}}}},
 {"title": {"text": "W₂", "anchor": "middle", "dx": -15, "dy": -3}, "spacing": 10, "resolve": {"scale": {"color": "shared"}, "legend": {"color": "independent"}}, "hconcat": [
  {"data": {"name": "w2a"}, "width": 30, "height": 72, "mark": "rect", "encoding": {"x": {"field": "c", "type": "ordinal", "axis": null, "scale": {"paddingInner": 0, "paddingOuter": 0}}, "y": {"field": "r", "type": "ordinal", "axis": null, "scale": {"paddingInner": 0, "paddingOuter": 0}}, "color": {"field": "v", "type": "quantitative", "scale": {"domain": [0, 0.0625, 0.125, 0.1875, 0.25, 0.3125, 0.375, 0.4375, 0.5], "range": ["#352a87", "#0363e1", "#1485d4", "#06a7c6", "#38b99e", "#92bf73", "#d9ba56", "#fcce2e", "#f9fb0e"]}, "legend": null}}},
  {"data": {"name": "w2b"}, "width": 30, "height": 72, "mark": "rect", "encoding": {"x": {"field": "c", "type": "ordinal", "axis": null, "scale": {"paddingInner": 0, "paddingOuter": 0}}, "y": {"field": "r", "type": "ordinal", "axis": null, "scale": {"paddingInner": 0, "paddingOuter": 0}}, "color": {"field": "v", "type": "quantitative", "scale": {"domain": [0, 0.0625, 0.125, 0.1875, 0.25, 0.3125, 0.375, 0.4375, 0.5], "range": ["#352a87", "#0363e1", "#1485d4", "#06a7c6", "#38b99e", "#92bf73", "#d9ba56", "#fcce2e", "#f9fb0e"]}, "legend": {"title": null, "values": [0, 0.5], "labelExpr": "datum.value == 0 ? '0' : '0.5'", "gradientLength": 76, "gradientThickness": 6, "gradientStrokeColor": "#333", "gradientStrokeWidth": 1, "offset": 3, "labelOffset": 3, "padding": 0}}}}
 ]}
]},
{"spacing": 16, "resolve": {"scale": {"color": "independent"}, "legend": {"color": "independent"}}, "hconcat": [
 {"data": {"name": "f3"}, "title": {"text": "F₃", "dy": 7}, "width": 240, "height": 72, "mark": {"type": "line", "color": "#0072BD", "strokeWidth": 1.2},
  "encoding": {"x": {"field": "t", "type": "quantitative", "scale": {"domain": [4.5, 24.5], "nice": false, "zero": false}, "axis": {"values": [5, 10, 15, 20], "title": null}},
   "y": {"field": "v", "type": "quantitative", "scale": {"domain": [0, 1], "nice": false}, "axis": {"values": [0, 0.3333, 0.6667, 1], "labelExpr": "datum.value == 0 ? '0' : datum.value == 1 ? '1' : ''", "title": null}}}},
 {"title": {"text": "W₃", "anchor": "middle", "dx": -15, "dy": -3}, "spacing": 10, "resolve": {"scale": {"color": "shared"}, "legend": {"color": "independent"}}, "hconcat": [
  {"data": {"name": "w3a"}, "width": 30, "height": 72, "mark": "rect", "encoding": {"x": {"field": "c", "type": "ordinal", "axis": null, "scale": {"paddingInner": 0, "paddingOuter": 0}}, "y": {"field": "r", "type": "ordinal", "axis": null, "scale": {"paddingInner": 0, "paddingOuter": 0}}, "color": {"field": "v", "type": "quantitative", "scale": {"domain": [0, 0.0625, 0.125, 0.1875, 0.25, 0.3125, 0.375, 0.4375, 0.5], "range": ["#352a87", "#0363e1", "#1485d4", "#06a7c6", "#38b99e", "#92bf73", "#d9ba56", "#fcce2e", "#f9fb0e"]}, "legend": null}}},
  {"data": {"name": "w3b"}, "width": 30, "height": 72, "mark": "rect", "encoding": {"x": {"field": "c", "type": "ordinal", "axis": null, "scale": {"paddingInner": 0, "paddingOuter": 0}}, "y": {"field": "r", "type": "ordinal", "axis": null, "scale": {"paddingInner": 0, "paddingOuter": 0}}, "color": {"field": "v", "type": "quantitative", "scale": {"domain": [0, 0.0625, 0.125, 0.1875, 0.25, 0.3125, 0.375, 0.4375, 0.5], "range": ["#352a87", "#0363e1", "#1485d4", "#06a7c6", "#38b99e", "#92bf73", "#d9ba56", "#fcce2e", "#f9fb0e"]}, "legend": {"title": null, "values": [0, 0.5], "labelExpr": "datum.value == 0 ? '0' : '0.5'", "gradientLength": 76, "gradientThickness": 6, "gradientStrokeColor": "#333", "gradientStrokeWidth": 1, "offset": 3, "labelOffset": 3, "padding": 0}}}}
 ]}
]},
{"spacing": 16, "resolve": {"scale": {"color": "independent"}, "legend": {"color": "independent"}}, "hconcat": [
 {"data": {"name": "f4"}, "title": {"text": "F₄", "dy": 7}, "width": 240, "height": 72, "mark": {"type": "line", "color": "#0072BD", "strokeWidth": 1.2},
  "encoding": {"x": {"field": "t", "type": "quantitative", "scale": {"domain": [4.5, 24.5], "nice": false, "zero": false}, "axis": {"values": [5, 10, 15, 20], "title": "time (s)"}},
   "y": {"field": "v", "type": "quantitative", "scale": {"domain": [0, 1], "nice": false}, "axis": {"values": [0, 0.3333, 0.6667, 1], "labelExpr": "datum.value == 0 ? '0' : datum.value == 1 ? '1' : ''", "title": null}}}},
 {"title": {"text": "W₄", "anchor": "middle", "dx": -15, "dy": -3}, "spacing": 10, "resolve": {"scale": {"color": "shared"}, "legend": {"color": "independent"}}, "hconcat": [
  {"data": {"name": "w4a"}, "width": 30, "height": 72, "mark": "rect", "encoding": {"x": {"field": "c", "type": "ordinal", "axis": null, "scale": {"paddingInner": 0, "paddingOuter": 0}}, "y": {"field": "r", "type": "ordinal", "axis": null, "scale": {"paddingInner": 0, "paddingOuter": 0}}, "color": {"field": "v", "type": "quantitative", "scale": {"domain": [0, 0.0625, 0.125, 0.1875, 0.25, 0.3125, 0.375, 0.4375, 0.5], "range": ["#352a87", "#0363e1", "#1485d4", "#06a7c6", "#38b99e", "#92bf73", "#d9ba56", "#fcce2e", "#f9fb0e"]}, "legend": null}}},
  {"data": {"name": "w4b"}, "width": 30, "height": 72, "mark": "rect", "encoding": {"x": {"field": "c", "type": "ordinal", "axis": null, "scale": {"paddingInner": 0, "paddingOuter": 0}}, "y": {"field": "r", "type": "ordinal", "axis": null, "scale": {"paddingInner": 0, "paddingOuter": 0}}, "color": {"field": "v", "type": "quantitative", "scale": {"domain": [0, 0.0625, 0.125, 0.1875, 0.25, 0.3125, 0.375, 0.4375, 0.5], "range": ["#352a87", "#0363e1", "#1485d4", "#06a7c6", "#38b99e", "#92bf73", "#d9ba56", "#fcce2e", "#f9fb0e"]}, "legend": {"title": null, "values": [0, 0.5], "labelExpr": "datum.value == 0 ? '0' : '0.5'", "gradientLength": 76, "gradientThickness": 6, "gradientStrokeColor": "#333", "gradientStrokeWidth": 1, "offset": 3, "labelOffset": 3, "padding": 0}}}}
 ]}
]}
]
}
